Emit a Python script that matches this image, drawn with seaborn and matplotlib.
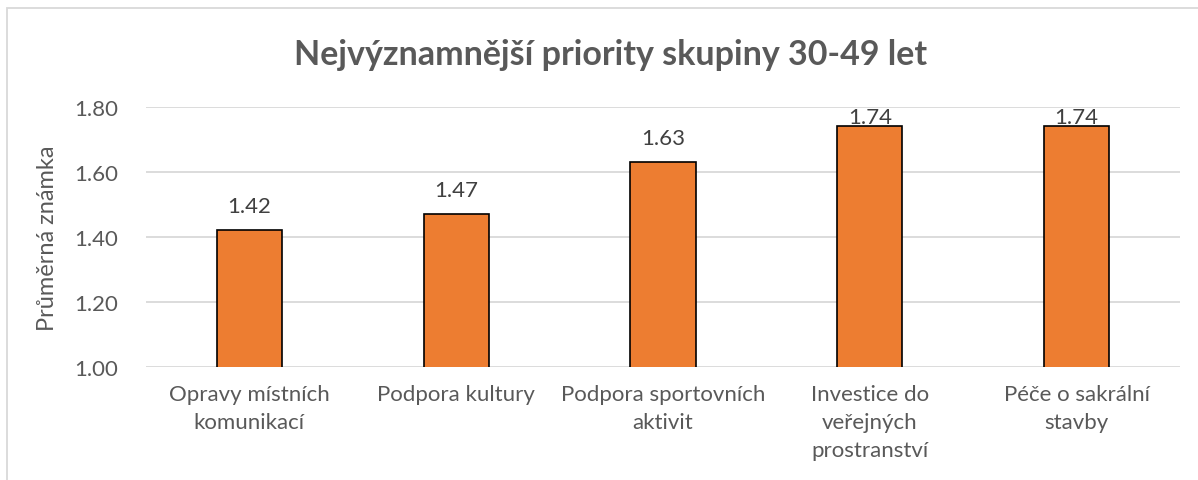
import pandas as pd
import numpy as np
import seaborn as sns
import matplotlib.pyplot as plt
from matplotlib.patches import Rectangle

categories = ['Opravy místních\nkomunikací', 'Podpora kultury', 'Podpora sportovních\naktivit',
              'Investice do\nveřejných\nprostranství', 'Péče o sakrální\nstavby']
values = [1.42, 1.47, 1.63, 1.74, 1.74]
title = 'Nejvýznamnější priority skupiny 30-49 let'
ylabel = 'Průměrná známka'
yticks = [1.00, 1.20, 1.40, 1.60, 1.80]

df = pd.DataFrame({'kategorie': categories, 'znamka': values})

sns.set_style('white')
plt.rcParams['font.family'] = ['Lato', 'DejaVu Sans']
text_col = '#595959'

fig = plt.figure(figsize=(11.98, 4.81), dpi=100)
ax = fig.add_axes([0.1219, 0.235, 0.8631, 0.5405])

sns.barplot(data=df, x='kategorie', y='znamka', color='#ED7D31', saturation=1,
            width=0.315, edgecolor='black', linewidth=1.2, ax=ax, zorder=3)

ax.set_ylim(1.0, 1.8)
ax.set_xlim(-0.5, len(categories) - 0.5)
ax.set_yticks(yticks)
ax.set_yticklabels([f'{t:.2f}' for t in yticks])
ax.yaxis.grid(True, color='#D9D9D9', linewidth=1.3, zorder=0)
ax.set_axisbelow(True)
for s in ax.spines.values():
    s.set_visible(False)
ax.tick_params(axis='both', length=0, labelsize=16, colors=text_col)
ax.tick_params(axis='y', pad=20)
ax.tick_params(axis='x', pad=12)
for lab in ax.get_xticklabels():
    lab.set_linespacing(1.5)
ax.set_xlabel('')
ax.set_ylabel(ylabel, fontsize=17, color=text_col, labelpad=12)

# popisky hodnot nad sloupci
for i, v in enumerate(values):
    ax.text(i, min(v + 0.045, 1.738), f'{v:.2f}', ha='center', va='bottom',
            fontsize=16, color='#404040')

fig.text(0.51, 0.885, title, ha='center', va='center', fontsize=24.5,
         fontweight='bold', color=text_col)

# ramecek grafu
fig.add_artist(Rectangle((7 / 1198, -0.05), 1.1, 1 - 9 / 481 + 0.05, transform=fig.transFigure,
                         fill=False, edgecolor='#D9D9D9', linewidth=1.3))

fig.savefig('out.png', dpi=100)
